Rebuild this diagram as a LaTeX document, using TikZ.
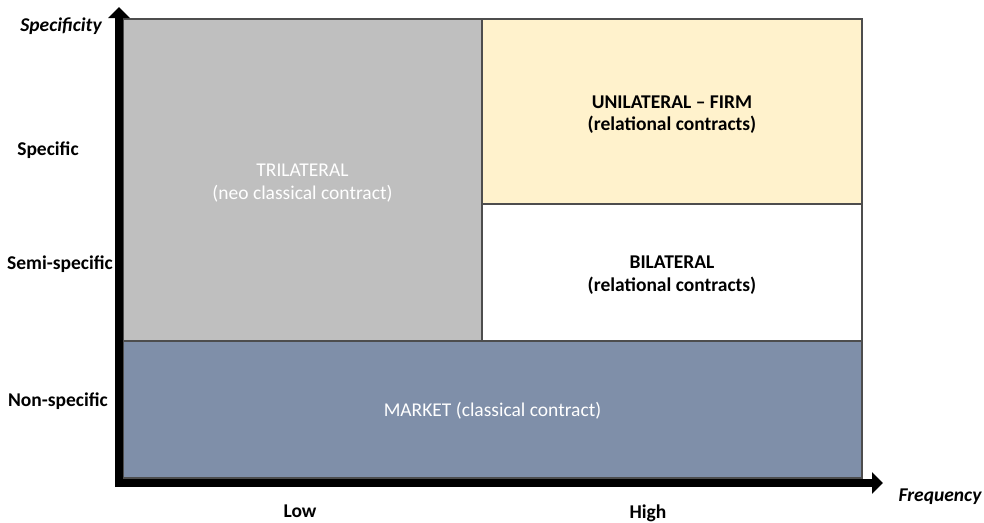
\documentclass[tikz,border=0pt]{standalone}
\usepackage{fontspec}
\setmainfont{Carlito}
\usetikzlibrary{arrows.meta}
\definecolor{trigray}{HTML}{BFBFBF}
\definecolor{uniyellow}{HTML}{FFF2CC}
\definecolor{marketblue}{HTML}{7F8FA9}
\definecolor{edgegray}{HTML}{4D4D4D}
\tikzset{
  cell/.style={draw=edgegray, line width=1.3pt, rectangle, inner sep=0pt},
  celltext/.style={align=center, inner sep=0pt, font=\fontsize{19.5}{22.5}\selectfont},
  axislabel/.style={font=\fontsize{19.5}{22}\selectfont\bfseries, inner sep=0pt},
  axisline/.style={line width=8.5pt, -{Triangle[width=21pt,length=11pt]}},
}
\begin{document}
\begin{tikzpicture}[x=1pt,y=-1pt]
\useasboundingbox (0,0) rectangle (984,522);
% cells
\node[cell, fill=trigray, minimum width=359pt, minimum height=322pt] (tri) at (302.5,180) {};
\node[cell, fill=uniyellow, minimum width=380pt, minimum height=185pt] (uni) at (672,111.5) {};
\node[cell, fill=white, minimum width=380pt, minimum height=137pt] (bi) at (672,272.5) {};
\node[cell, fill=marketblue, minimum width=739pt, minimum height=137pt] (mkt) at (492.5,409.5) {};
% cell texts
\node[celltext, text=white] (tritext) at ([yshift=-3pt]tri.center) {TRILATERAL\\(neo classical contract)};
\node[celltext, font=\fontsize{19.5}{22.5}\selectfont\bfseries] (unitext) at ([yshift=-3pt]uni.center) {UNILATERAL -- FIRM\\(relational contracts)};
\node[celltext, font=\fontsize{19.5}{22.5}\selectfont\bfseries] (bitext) at ([yshift=-2.5pt]bi.center) {BILATERAL\\(relational contracts)};
\node[celltext, text=white] (mkttext) at ([yshift=-1pt]mkt.center) {MARKET (classical contract)};
% axes
\coordinate (vstart) at (119,487);
\coordinate (vend) at (119,7);
\coordinate (hstart) at (115,483);
\coordinate (hend) at (883,483);
\draw[axisline] (vstart) -- (vend);
\draw[axisline] (hstart) -- (hend);
% labels
\node[axislabel, font=\fontsize{19.5}{22}\selectfont\bfseries\itshape] (spec) at (61,26) {Specificity};
\node[axislabel] (s1) at (48,150) {Specific};
\node[axislabel] (s2) at (60,264) {Semi-specific};
\node[axislabel] (s3) at (58,401) {Non-specific};
\node[axislabel] (low) at (300,511) {Low};
\node[axislabel] (high) at (648,513) {High};
\node[axislabel, font=\fontsize{19.5}{22}\selectfont\bfseries\itshape] (freq) at (940,497) {Frequency};
\end{tikzpicture}
\end{document}
